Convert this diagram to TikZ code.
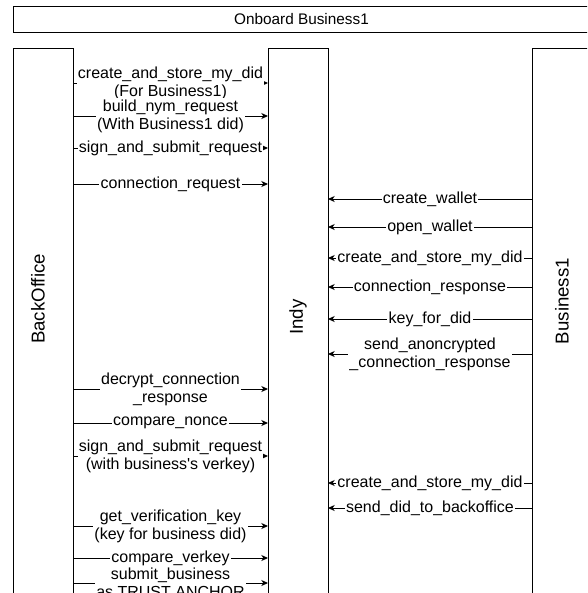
\documentclass[tikz,border=0pt]{standalone}
\usepackage{fontspec}
\setmainfont{Liberation Sans}
\usetikzlibrary{arrows.meta}

\begin{document}
\begin{tikzpicture}[x=0.75pt,y=-0.75pt,line width=0.75pt,
		lane/.style={draw,minimum width=45pt,minimum height=489pt,inner sep=0pt,outer sep=0pt},
		lanename/.style={rotate=90,font=\fontsize{14}{16}\selectfont},
		msg/.style={-{Stealth[length=5pt,width=4.5pt,inset=1.5pt]}},
		lbl/.style={fill=white,inner sep=1pt,align=center,font=\fontsize{12}{13.5}\selectfont}]
					\useasboundingbox (0,0) rectangle (587,593);
					\clip (0,0) rectangle (587,593);
					\node[draw,minimum width=432.75pt,minimum height=19.5pt,inner sep=0pt,
						font=\fontsize{11.5}{13}\selectfont] (title) at (301.5,19) {Onboard Business1};
					% lanes
					\node[lane] (bo) at (43,374) {};
					\node[lane] (indy) at (298,374) {};
					\node[lane] (biz) at (562,374) {};
					\node[lanename] (boname) at (38,299) {BackOffice};
					\node[lanename] (indyname) at (298,317) {Indy};
					\node[lanename] (bizname) at (562,301) {Business1};
					% BackOffice -> Indy
					\draw[msg] (bo.east |- 0,83) -- node[lbl] {create\_and\_store\_my\_did\\(For Business1)} (indy.west |- 0,83);
					\draw[msg] (bo.east |- 0,116) -- node[lbl] {build\_nym\_request\\(With Business1 did)} (indy.west |- 0,116);
					\draw[msg] (bo.east |- 0,148) -- node[lbl] {sign\_and\_submit\_request} (indy.west |- 0,148);
					\draw[msg] (bo.east |- 0,184) -- node[lbl] {connection\_request} (indy.west |- 0,184);
					\draw[msg] (bo.east |- 0,389) -- node[lbl] {decrypt\_connection\\\_response} (indy.west |- 0,389);
					\draw[msg] (bo.east |- 0,423) -- node[lbl] {compare\_nonce} (indy.west |- 0,423);
					\draw[msg] (bo.east |- 0,456) -- node[lbl] {sign\_and\_submit\_request\\(with business\textquotesingle s verkey)} (indy.west |- 0,456);
					\draw[msg] (bo.east |- 0,526) -- node[lbl] {get\_verification\_key\\(key for business did)} (indy.west |- 0,526);
					\draw[msg] (bo.east |- 0,558) -- node[lbl] {compare\_verkey} (indy.west |- 0,558);
					\draw[msg] (bo.east |- 0,583) -- node[lbl] {submit\_business\\as TRUST ANCHOR} (indy.west |- 0,583);
					% Business1 -> Indy
					\draw[msg] (biz.west |- 0,199) -- node[lbl] {create\_wallet} (indy.east |- 0,199);
					\draw[msg] (biz.west |- 0,227) -- node[lbl] {open\_wallet} (indy.east |- 0,227);
					\draw[msg] (biz.west |- 0,258) -- node[lbl] {create\_and\_store\_my\_did} (indy.east |- 0,258);
					\draw[msg] (biz.west |- 0,287) -- node[lbl] {connection\_response} (indy.east |- 0,287);
					\draw[msg] (biz.west |- 0,319) -- node[lbl] {key\_for\_did} (indy.east |- 0,319);
					\draw[msg] (biz.west |- 0,354) -- node[lbl] {send\_anoncrypted\\\_connection\_response} (indy.east |- 0,354);
					\draw[msg] (biz.west |- 0,483) -- node[lbl] {create\_and\_store\_my\_did} (indy.east |- 0,483);
					\draw[msg] (biz.west |- 0,508) -- node[lbl] {send\_did\_to\_backoffice} (indy.east |- 0,508);
				\end{tikzpicture}
\end{document}
